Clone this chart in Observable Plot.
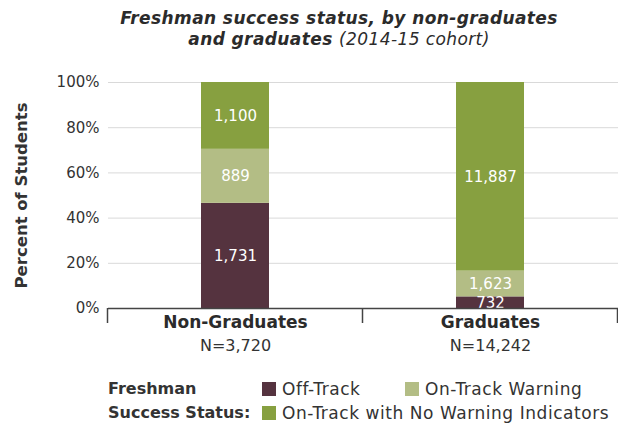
<!DOCTYPE html>
<html><head><meta charset="utf-8">
<script src="https://cdn.jsdelivr.net/npm/d3@7"></script>
<script src="https://cdn.jsdelivr.net/npm/@observablehq/plot@0.6"></script>
<style>
body{margin:0;background:#fff;font-family:"DejaVu Sans",sans-serif;color:#333;width:618px;height:432px;overflow:hidden;position:relative}
#title{position:absolute;left:0;top:8px;width:618px;padding-left:60px;box-sizing:border-box;text-align:center;font-size:17px;line-height:21px;font-style:italic;font-weight:700;color:#2b2b2b;letter-spacing:0.4px}
#title span{font-weight:400}
#chart{position:absolute;left:0;top:60px}
.lg{position:absolute;font-size:17px;line-height:20px;color:#333;white-space:nowrap;letter-spacing:0.55px}
.lg.b{font-weight:700;font-size:16px;letter-spacing:0px}
.sw{position:absolute;width:14px;height:14px}
</style></head><body>
<div id="title">Freshman success status, by non-graduates<br>and graduates <span>(2014-15 cohort)</span></div>
<div id="chart"></div>
<div id="legend"></div>
<script>
const groups = ["Non-Graduates", "Graduates"];
const groupN = ["N=3,720", "N=14,242"];
const statuses = ["Off-Track", "On-Track Warning", "On-Track with No Warning Indicators"];
const colors = ["#55333f", "#b3bd85", "#87a040"];
const counts = {
  "Non-Graduates": [1731, 889, 1100],
  "Graduates": [732, 1623, 11887]
};
const yTicks = [0, 20, 40, 60, 80, 100];

const rows = [];
groups.forEach(g => {
  const total = d3.sum(counts[g]);
  statuses.forEach((s, i) => rows.push({group: g, status: s, order: i, count: counts[g][i], pct: counts[g][i] / total * 100}));
});
const labels = groups.map((g, i) => ({group: g, n: groupN[i]}));

const chart = Plot.plot({
  width: 618, height: 300,
  marginLeft: 108, marginRight: 0, marginTop: 22, marginBottom: 52,
  style: {fontFamily: '"DejaVu Sans", sans-serif', fontSize: "15px", color: "#333", background: "transparent"},
  x: {domain: groups, paddingInner: 0.733, paddingOuter: 0.3665, axis: null},
  y: {domain: [0, 100]},
  color: {domain: statuses, range: colors},
  marks: [
    Plot.gridY(yTicks, {stroke: "#d9d9d9", strokeOpacity: 1, strokeWidth: 1}),
    Plot.axisY(yTicks, {tickSize: 0, tickPadding: 9, tickFormat: d => d + "%", label: null, fontSize: 15, fill: "#333"}),
    Plot.text(["Percent of Students"], {frameAnchor: "left", textAnchor: "middle", rotate: -90, dx: -87, fontSize: 16.5, fontWeight: 700, fill: "#333", ariaLabel: "ylabel"}),
    Plot.barY(rows, {x: "group", y: "pct", fill: "status", order: statuses}),
    Plot.text(rows, Plot.stackY({x: "group", y: "pct", z: "status", order: statuses, text: d => d3.format(",")(d.count), fill: "white", fontSize: 15, ariaLabel: "seg"})),
    Plot.ruleY([0], {stroke: "#444", strokeWidth: 1.5}),
    Plot.text(labels, {x: "group", text: "group", frameAnchor: "bottom", dy: 19, fontSize: 17, fontWeight: 700, fill: "#2b2b2b", ariaLabel: "cat"}),
    Plot.text(labels, {x: "group", text: "n", frameAnchor: "bottom", dy: 42, fontSize: 16, fill: "#333", ariaLabel: "ncount"})
  ]
});
document.getElementById("chart").appendChild(chart);
d3.select(chart).selectAll("g[aria-label='cat'] text").style("letter-spacing", "0.9px");
d3.select(chart).selectAll("g[aria-label='ncount'] text").style("letter-spacing", "1px");
d3.select(chart).selectAll("g[aria-label='ylabel'] text").style("letter-spacing", "1px");

// category separator ticks below the axis, positioned from Plot's x scale
const sx = chart.scale("x");
const sy = chart.scale("y");
const gap = sx.step - sx.bandwidth;
const bounds = groups.map(g => sx.apply(g) - gap / 2).concat([sx.apply(groups[groups.length - 1]) + sx.bandwidth + gap / 2]);
const y0 = sy.apply(0);
d3.select(chart).append("g").selectAll("line").data(bounds).join("line")
  .attr("x1", d => d).attr("x2", d => d)
  .attr("y1", y0).attr("y2", y0 + 15)
  .attr("stroke", "#444").attr("stroke-width", 1.5);

// legend
const legend = document.getElementById("legend");
const items = [
  {cls: "lg b", text: "Freshman", x: 108, y: 379},
  {cls: "lg b", text: "Success Status:", x: 108, y: 403}
];
items.forEach(it => {
  const d = document.createElement("div");
  d.className = it.cls; d.textContent = it.text;
  d.style.left = it.x + "px"; d.style.top = it.y + "px";
  legend.appendChild(d);
});
const pos = [[262, 379], [405, 379], [262, 403]];
statuses.forEach((s, i) => {
  const sw = document.createElement("div");
  sw.className = "sw"; sw.style.background = colors[i];
  sw.style.left = pos[i][0] + "px"; sw.style.top = (pos[i][1] + 3) + "px";
  legend.appendChild(sw);
  const t = document.createElement("div");
  t.className = "lg"; t.textContent = s;
  t.style.left = (pos[i][0] + 20) + "px"; t.style.top = pos[i][1] + "px";
  legend.appendChild(t);
});
</script>
</body></html>
